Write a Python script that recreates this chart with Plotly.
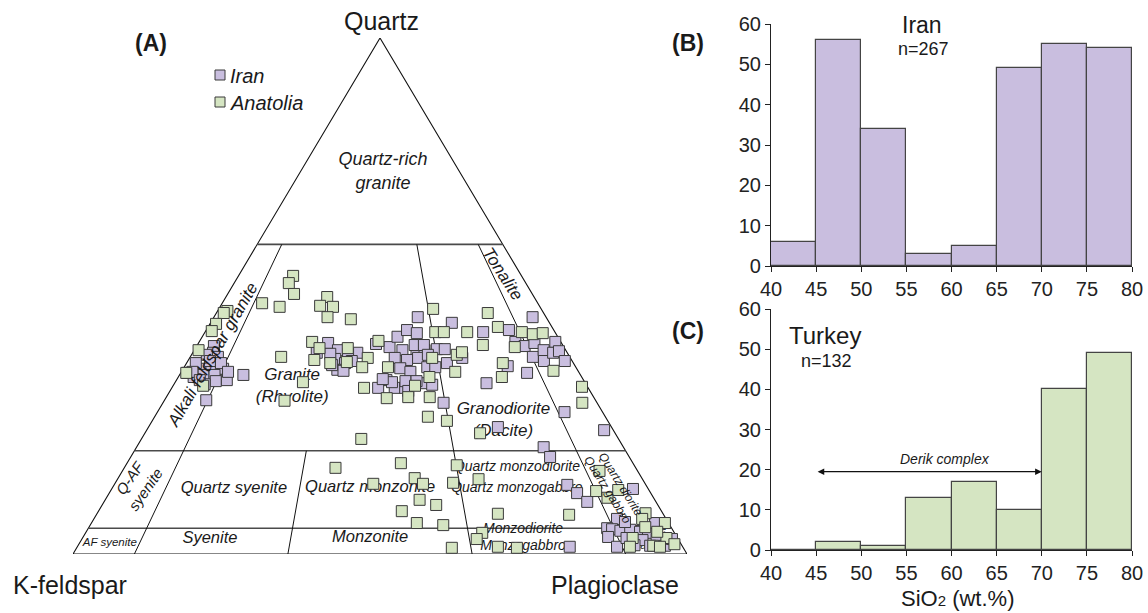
import plotly.graph_objects as go

W, H = 1148, 613
FONT = "Liberation Sans, Arial, sans-serif"

# ---------------- data ----------------
# QAP modal compositions (percent): Q = quartz, P = plagioclase, A = 100 - Q - P
iran_Q = [40.3, 39.0, 38.2, 38.6, 35.9, 36.2, 35.9, 35.1, 34.3, 34.7, 34.7, 33.7, 33.5, 32.9, 34.7,
          29.8, 37.0, 37.4, 37.0, 35.3, 35.3, 33.7,
          40.9, 39.5, 37.8, 37.0, 35.7, 39.0, 39.0, 38.8, 38.8, 35.5, 36.6, 37.4,
          40.7, 40.1, 42.1, 43.4, 42.8, 45.9, 44.8, 39.5, 39.5, 39.5, 39.7, 39.7, 38.0, 37.6, 38.0,
          37.0, 38.0, 36.0, 35.3, 36.2, 36.2, 33.7, 32.2, 32.2, 32.2, 33.1, 29.3, 40.5, 40.5, 33.3,
          33.5, 33.5, 31.6, 33.9, 32.8, 38.6,
          45.9, 43.0, 43.4, 41.1, 40.3, 40.9, 38.2, 39.5, 37.4, 41.1, 39.0, 39.3, 37.4, 36.4, 35.1,
          33.1, 27.5, 24.0, 24.6, 20.7, 18.8, 13.4, 11.8, 10.1, 12.6, 1.4,
          6.8, 5.0, 4.8, 4.5, 3.3, 1.4, 4.7, 4.3, 4.1, 2.7, 2.9, 1.6, 1.6, 1.7, 2.9, 3.1, 6.0, 6.2]
iran_P = [2.8, 3.3, 4.5, 2.5, 6.5, 4.2, 2.8, 1.1, 2.5, 3.9, 5.7, 8.2, 6.5, 5.0, 10.4,
          6.8, 1.5, 3.6, 5.6, 1.8, 7.6, 3.8,
          21.1, 23.4, 23.8, 25.8, 25.2, 20.2, 26.8, 22.5, 25.4, 26.3, 23.9, 26.7,
          29.0, 31.5, 31.8, 32.7, 34.6, 33.2, 39.3, 33.9, 36.2, 37.5, 39.4, 40.7, 33.4, 35.6, 37.2,
          42.4, 44.4, 35.3, 37.3, 39.6, 40.9, 34.2, 33.6, 36.3, 38.0, 40.4, 45.7, 35.4, 36.9, 35.3,
          37.4, 39.2, 38.8, 33.5, 42.1, 38.5,
          51.9, 45.3, 49.3, 51.5, 53.4, 54.7, 55.8, 56.9, 58.0, 58.0, 58.7, 59.5, 61.4, 52.6, 56.4,
          50.8, 66.3, 74.5, 56.9, 66.3, 68.3, 73.8, 76.2, 78.7, 84.9, 80.2,
          85.2, 84.5, 85.4, 86.9, 85.5, 87.9, 88.4, 90.2, 91.6, 91.4, 93.6, 95.6, 93.2, 90.6, 96.1, 88.6, 91.8, 86.8]

anatolia_Q = [53.9, 52.5, 50.4, 48.6, 47.9, 47.1, 46.7, 49.8, 48.1, 47.9, 45.9, 45.5, 47.5, 46.7, 44.6,
              43.2, 44.0, 43.0, 43.0, 42.6, 42.8, 43.0, 43.0, 40.5, 41.3, 41.1, 39.9, 39.9, 38.2, 39.5,
              37.6, 37.0, 37.2, 38.0, 36.2, 36.2, 38.6, 35.3, 38.0, 34.3, 35.1, 33.3, 32.6, 32.2, 30.2,
              30.4, 32.6, 30.4, 29.7, 37.0, 34.3, 35.5, 32.4, 29.3, 26.6, 25.8, 23.4, 22.3, 40.1, 39.1,
              16.7, 17.6, 14.7, 13.6, 13.6, 17.2, 14.5, 13.8, 10.5, 9.5, 8.3, 7.8, 7.6, 6.0, 5.6,
              1.2, 4.1, 2.9, 1.4, 1.2, 16.1, 12.2, 10.9, 12.4, 7.9, 6.8, 5.2, 3.1, 1.4, 6.0,
              3.1, 1.9, 4.3, 1.6, 1.4]
anatolia_P = [8.9, 8.9, 10.8, 6.5, 9.7, 1.6, 1.2, 16.5, 16.2, 18.4, 18.5, 22.5, 34.9, 44.2, 1.0,
              1.0, 47.2, 42.7, 51.6, 53.6, 55.1, 37.5, 38.9, 46.5, 29.1, 18.4, 20.2, 24.8, 14.8, 0.7,
              20.5, 23.4, 26.0, 29.0, 29.0, 33.2, 43.2, 44.6, 39.5, 40.9, 0.9, 20.8, 4.9, 31.3, 36.0,
              39.4, 39.4, 42.9, 19.6, 51.5, 52.7, 60.5, 66.7, 68.3, 44.5, 48.0, 54.6, 35.8, 51.9, 43.8,
              34.4, 44.6, 48.3, 50.2, 42.1, 53.9, 58.8, 55.0, 51.2, 54.4, 49.4, 65.3, 77.0, 53.0, 57.5,
              61.1, 64.6, 64.3, 68.5, 71.7, 77.7, 79.1, 81.6, 82.6, 89.3, 89.3, 90.6, 89.6, 90.0, 93.4,
              95.1, 97.0, 93.0, 93.7, 94.9]

# SiO2 histograms (bin left edges, width 5 wt.%)
sio2_bins = [40, 45, 50, 55, 60, 65, 70, 75]
iran_counts = [6, 56, 34, 3, 5, 49, 55, 54]
turkey_counts = [0, 2, 1, 13, 17, 10, 40, 49]
bin_width = 5

# QAP field boundaries (Streckeisen)
q_levels = [60, 20, 5]                                # Q %
r_lines = [(10, 60), (35, 20), (65, 60), (90, 60)]    # (100*P/(A+P), upper Q limit)

# ---------------- styling ----------------
IRAN_FILL = "#C9BEDF"
ANAT_FILL = "#D5E5C2"
EDGE = "#3a3a3a"


def qap_xy(Q, P):
    """Project QAP percentages onto the triangle plane (K-feldspar left, plagioclase right)."""
    xs = [None if q is None else (p + q / 2) / 100 for q, p in zip(Q, P)]
    ys = [None if q is None else q / 100 for q in Q]
    return xs, ys


def px(x):
    return x / W


def py(y):
    return 1 - y / H


fig = go.Figure()

# triangle outline
ox, oy = qap_xy([100, 0, 0, 100], [0, 0, 100, 0])
fig.add_trace(go.Scatter(x=ox, y=oy, mode="lines", line=dict(color="#111", width=1.1),
                         hoverinfo="skip", xaxis="x", yaxis="y"))
# horizontal Q boundaries
hq, hp = [], []
for q in q_levels:
    hq += [q, q, None]
    hp += [0, 100 - q, None]
hx, hy = qap_xy(hq, hp)
fig.add_trace(go.Scatter(x=hx, y=hy, mode="lines", line=dict(color="#4a4a4a", width=1.6),
                         hoverinfo="skip", xaxis="x", yaxis="y"))
# P/(A+P) boundaries
rq, rp = [], []
for r, qt in r_lines:
    rq += [0, qt, None]
    rp += [r, r * (100 - qt) / 100, None]
rx, ry = qap_xy(rq, rp)
fig.add_trace(go.Scatter(x=rx, y=ry, mode="lines", line=dict(color="#111", width=1),
                         hoverinfo="skip", xaxis="x", yaxis="y"))

# field labels (drawn beneath the samples)
field_labels = [
    ("Quartz-rich<br>granite", 0.505, 0.739, 18),
    ("Granite<br>(Rhyolite)", 0.357, 0.324, 17),
    ("Granodiorite<br>(Dacite)", 0.701, 0.258, 17),
    ("Quartz syenite", 0.262, 0.126, 16.5),
    ("Quartz monzonite", 0.484, 0.128, 16.5),
    ("Quartz monzodiorite", 0.723, 0.167, 14),
    ("Quartz monzogabbro", 0.723, 0.126, 14),
    ("Syenite", 0.223, 0.029, 16.5),
    ("Monzonite", 0.484, 0.031, 16.5),
    ("Monzodiorite", 0.733, 0.048, 14),
    ("Monzogabbro", 0.733, 0.0155, 14),
    ("AF syenite", 0.060, 0.021, 11.5),
    ("Diorite", 0.940, 0.047, 11),
    ("Gabbro", 0.940, 0.0155, 11),
]
for t, x, y, s in field_labels:
    fig.add_trace(go.Scatter(x=[x], y=[y], mode="text", text=[t], textposition="middle center",
                             textfont=dict(family=FONT, size=s, color="#1a1a1a", style="italic"),
                             hoverinfo="skip", cliponaxis=False, xaxis="x", yaxis="y"))

# samples
ix, iy = qap_xy(iran_Q, iran_P)
fig.add_trace(go.Scatter(x=ix, y=iy, mode="markers", name="Iran", cliponaxis=False,
                         marker=dict(symbol="square", size=11, color=IRAN_FILL,
                                     line=dict(color=EDGE, width=1)),
                         xaxis="x", yaxis="y"))
ax_, ay_ = qap_xy(anatolia_Q, anatolia_P)
fig.add_trace(go.Scatter(x=ax_, y=ay_, mode="markers", name="Anatolia", cliponaxis=False,
                         marker=dict(symbol="square", size=11, color=ANAT_FILL,
                                     line=dict(color=EDGE, width=1)),
                         xaxis="x", yaxis="y"))

# histograms
centers = [b + bin_width / 2 for b in sio2_bins]
fig.add_trace(go.Bar(x=centers, y=iran_counts, width=bin_width, xaxis="x2", yaxis="y2",
                     marker=dict(color=IRAN_FILL, line=dict(color="#444", width=1.2))))
fig.add_trace(go.Bar(x=centers, y=turkey_counts, width=bin_width, xaxis="x3", yaxis="y3",
                     marker=dict(color=ANAT_FILL, line=dict(color="#444", width=1.2))))

hist_x = dict(range=[40, 80], tickvals=list(range(40, 81, 5)), ticks="outside", ticklen=5,
              tickcolor="#222", showline=True, linecolor="#222", linewidth=1.2, showgrid=False,
              zeroline=False, tickfont=dict(family=FONT, size=20, color="#222"), fixedrange=True,
              automargin=False)
hist_y = dict(range=[0, 60], tickvals=list(range(0, 61, 10)), ticks="outside", ticklen=5,
              tickcolor="#222", showline=True, linecolor="#222", linewidth=1.2, showgrid=False,
              zeroline=False, tickfont=dict(family=FONT, size=20, color="#222"), fixedrange=True,
              automargin=False)

fig.update_layout(
    template="none",
    width=W, height=H, autosize=False,
    margin=dict(l=0, r=0, t=0, b=0, pad=0, autoexpand=False),
    paper_bgcolor="white", plot_bgcolor="white",
    showlegend=False, bargap=0,
    font=dict(family=FONT, color="#1a1a1a"),
    xaxis=dict(domain=[73 / W, 687 / W], range=[0, 1], visible=False, fixedrange=True),
    yaxis=dict(domain=[1 - 554 / H, 1 - 38 / H], range=[0, 1], visible=False, fixedrange=True),
    xaxis2=dict(domain=[771 / W, 1132 / W], anchor="y2", **hist_x),
    yaxis2=dict(domain=[1 - 266 / H, 1 - 24 / H], anchor="x2", **hist_y),
    xaxis3=dict(domain=[771 / W, 1132 / W], anchor="y3", **hist_x),
    yaxis3=dict(domain=[1 - 550 / H, 1 - 309 / H], anchor="x3", **hist_y),
)

ann = []


def txt(text, x, y, size, xref="paper", yref="paper", italic=False, angle=0, xanchor="center",
        color="#1a1a1a"):
    ann.append(dict(text=text, x=x, y=y, xref=xref, yref=yref, showarrow=False,
                    xanchor=xanchor, yanchor="middle", textangle=angle, borderpad=0,
                    font=dict(family=FONT, size=size, color=color,
                              style="italic" if italic else "normal")))


# rotated field labels
txt("Alkali feldspar granite", 0.228, 0.386, 17, "x", "y", True, -60)
txt("Tonalite", 0.699, 0.543, 17, "x", "y", True, 57)
txt("Q-AF<br>syenite", 0.106, 0.136, 15, "x", "y", True, -55)
txt("Quartz diorite", 0.892, 0.136, 12, "x", "y", True, 58)
txt("Quartz gabbro", 0.871, 0.124, 12, "x", "y", True, 58)

# apex labels & panel letters
txt("Quartz", px(381), py(21), 25)
txt("K-feldspar", px(70), py(585), 25)
txt("Plagioclase", px(615), py(585), 25)
txt("<b>(A)</b>", px(151), py(43), 23)
txt("<b>(B)</b>", px(688), py(43), 23)
txt("<b>(C)</b>", px(688), py(331), 23)

# custom legend
txt("Iran", px(229), py(76), 20, italic=True, xanchor="left")
txt("Anatolia", px(229), py(103), 20, italic=True, xanchor="left")

# histogram texts
txt("Iran", px(922), py(25), 23)
txt("n=267", px(923), py(49), 18)
txt("Turkey", px(825), py(335), 24)
txt("n=132", px(826), py(361), 18)
txt("Derik complex", 59.3, 22.6, 14, "x3", "y3", True)
txt("SiO<span style='font-size:15px'>2</span> (wt.%)", px(957), py(598), 22)

ann.append(dict(x=70, y=19.5, ax=45, ay=19.5, xref="x3", yref="y3", axref="x3", ayref="y3",
                text="", showarrow=True, arrowhead=2, arrowside="end+start", arrowsize=1.1,
                arrowwidth=1.2, arrowcolor="#111"))

fig.update_layout(annotations=ann)

shapes = []
for cy, col in [(75, IRAN_FILL), (102, ANAT_FILL)]:
    shapes.append(dict(type="rect", xref="paper", yref="paper",
                       x0=px(215), x1=px(225), y0=py(cy + 5), y1=py(cy - 5),
                       fillcolor=col, line=dict(color=EDGE, width=1)))
fig.update_layout(shapes=shapes)

fig.write_html(
    "out.html",
    post_script="document.body.style.margin='0';document.body.style.overflow='hidden';",
)
